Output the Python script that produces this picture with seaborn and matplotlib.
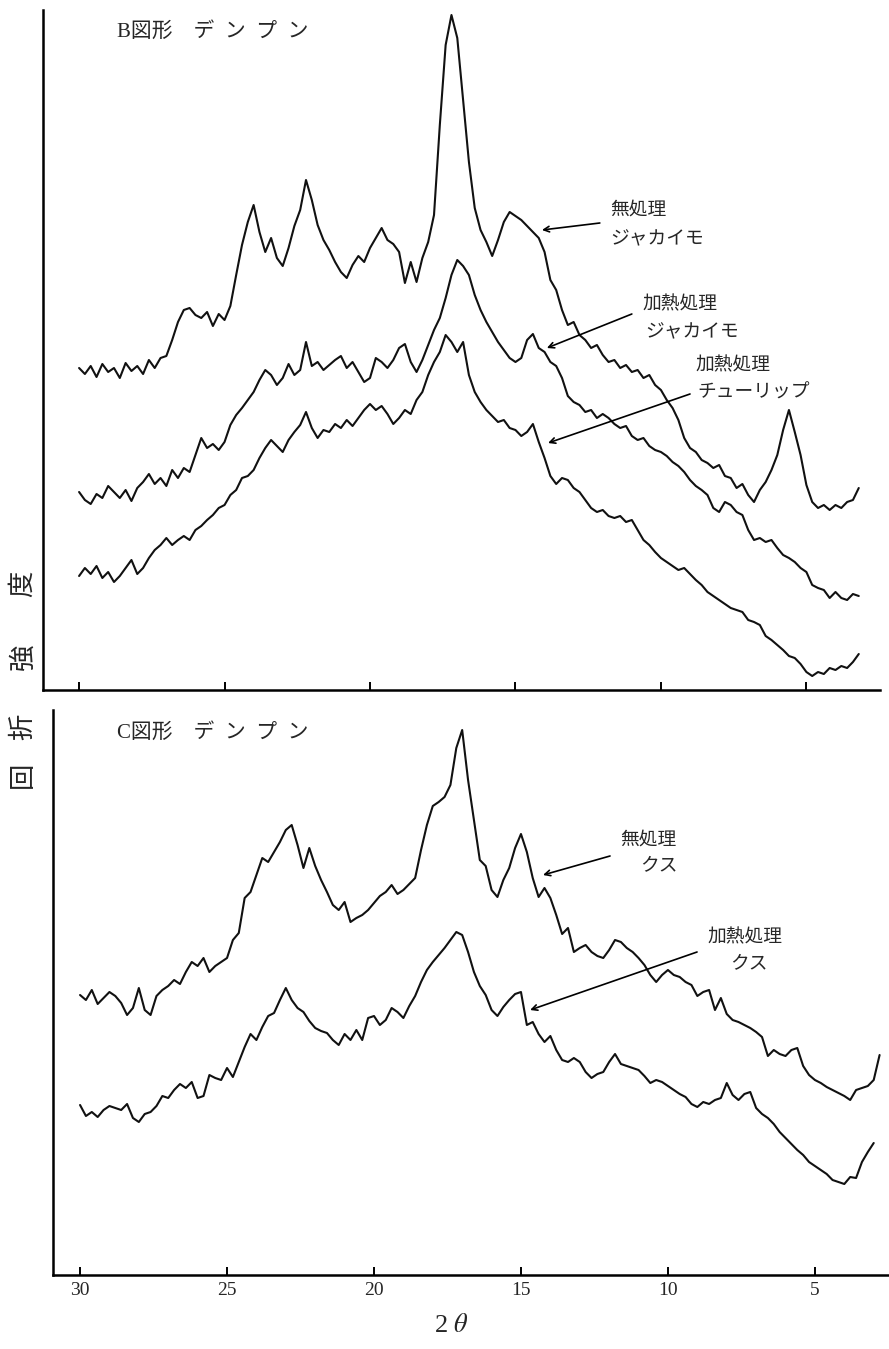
import numpy as np
import matplotlib
matplotlib.use("Agg")
import matplotlib.pyplot as plt
import seaborn as sns

# X-ray diffraction traces, intensity in arbitrary units
# 2theta sampled every 0.2 deg from 30 down to the end of each trace
theta_b = np.round(np.arange(30.0, 3.1, -0.2), 1)   # B panel, 30.0 .. 3.2
theta_c = np.round(np.arange(30.0, 2.7, -0.2), 1)   # C panel, 30.0 .. 2.8

# B図形 (top panel)
b_untreated_potato = [
    322, 316, 324, 313, 326, 318, 322, 312, 327, 319,
    324, 316, 330, 322, 332, 334, 350, 368, 380, 382,
    375, 372, 378, 364, 376, 370, 384, 415, 445, 468,
    485, 458, 438, 452, 432, 424, 442, 464, 480, 510,
    490, 465, 450, 440, 428, 418, 412, 425, 434, 428,
    442, 452, 462, 450, 446, 438, 407, 428, 408, 432,
    448, 475, 565, 645, 675, 652, 590, 528, 482, 460,
    448, 434, 450, 468, 478, 474, 470, 464, 458, 452,
    438, 410, 400, 380, 365, 368, 355, 350, 342, 345,
    335, 328, 330, 322, 325, 318, 320, 312, 315, 305,
    300, 290, 282, 270, 252, 242, 238, 230, 227, 222,
    225, 214, 212, 202, 206, 195, 188, 200, 208, 220,
    235, 260, 280, 258, 235, 205, 188, 182, 185, 180,
    185, 182, 188, 190, 202]
b_heated_potato = [
    198, 190, 186, 196, 192, 204, 198, 192, 200, 189,
    202, 208, 216, 206, 212, 204, 220, 212, 222, 218,
    235, 252, 242, 246, 240, 248, 265, 275, 282, 290,
    298, 310, 320, 315, 305, 312, 326, 315, 320, 348,
    324, 328, 320, 325, 330, 334, 322, 328, 318, 308,
    312, 332, 328, 322, 330, 342, 346, 328, 318, 330,
    345, 360, 372, 392, 415, 430, 424, 415, 395, 380,
    368, 358, 348, 340, 332, 328, 332, 350, 356, 342,
    338, 328, 324, 312, 294, 288, 285, 278, 280, 272,
    276, 272, 266, 262, 264, 254, 250, 252, 244, 240,
    238, 234, 228, 224, 218, 210, 204, 200, 195, 182,
    178, 188, 185, 178, 175, 160, 150, 152, 148, 150,
    142, 135, 132, 128, 122, 118, 105, 102, 100, 92,
    98, 92, 90, 96, 94]
b_heated_tulip = [
    114, 122, 116, 124, 112, 118, 108, 114, 122, 130,
    116, 122, 132, 140, 145, 152, 145, 150, 154, 150,
    160, 164, 170, 175, 182, 185, 195, 200, 212, 214,
    220, 232, 242, 250, 244, 238, 250, 258, 265, 278,
    262, 252, 260, 258, 266, 262, 270, 264, 272, 280,
    286, 280, 284, 276, 266, 272, 280, 276, 290, 298,
    315, 328, 338, 355, 348, 338, 348, 315, 298, 288,
    280, 274, 268, 270, 262, 260, 254, 258, 266, 248,
    232, 214, 206, 212, 210, 202, 198, 190, 182, 178,
    180, 174, 172, 174, 168, 170, 160, 150, 145, 138,
    132, 128, 124, 120, 122, 116, 110, 105, 98, 94,
    90, 86, 82, 80, 78, 70, 68, 65, 54, 50,
    45, 40, 34, 32, 26, 18, 14, 18, 16, 22,
    20, 24, 22, 28, 36]

# C図形 (bottom panel)
c_untreated_kusu = [
    280, 275, 285, 271, 277, 283, 279, 272, 260, 267,
    287, 265, 260, 279, 285, 289, 295, 291, 303, 313,
    309, 317, 303, 309, 313, 317, 335, 342, 377, 383,
    400, 417, 413, 423, 433, 445, 450, 430, 407, 427,
    409, 395, 383, 370, 365, 373, 353, 357, 360, 365,
    372, 379, 383, 390, 381, 385, 391, 397, 425, 450,
    469, 473, 478, 490, 527, 545, 495, 455, 415, 409,
    385, 378, 395, 407, 427, 441, 423, 397, 378, 387,
    377, 360, 341, 347, 323, 327, 330, 323, 319, 317,
    325, 335, 333, 327, 323, 317, 310, 300, 293, 300,
    305, 300, 298, 293, 290, 279, 283, 285, 265, 277,
    261, 255, 253, 250, 247, 243, 238, 219, 225, 221,
    219, 225, 227, 209, 200, 195, 192, 188, 185, 182,
    179, 175, 185, 187, 189, 195, 220]
c_heated_kusu = [
    170, 159, 163, 158, 165, 169, 167, 165, 171, 157,
    153, 161, 163, 169, 179, 177, 185, 191, 187, 193,
    177, 179, 200, 197, 195, 207, 198, 213, 228, 241,
    235, 248, 259, 262, 275, 287, 275, 267, 263, 254,
    247, 244, 242, 235, 230, 241, 235, 245, 235, 257,
    259, 250, 255, 267, 263, 257, 269, 279, 293, 305,
    313, 320, 327, 335, 343, 340, 323, 303, 289, 280,
    265, 259, 268, 275, 281, 283, 250, 253, 241, 233,
    239, 225, 215, 213, 217, 213, 203, 197, 201, 203,
    213, 221, 211, 209, 207, 205, 199, 192, 195, 193,
    189, 185, 181, 178, 171, 168, 173, 171, 175, 177,
    192, 180, 175, 181, 183, 167, 161, 157, 151, 143,
    137, 131, 125, 120, 113, 109, 105, 101, 95, 93,
    91, 98, 97, 113, 123, 132]

ticks = [30, 25, 20, 15, 10, 5]
tick_labels = ["30", "25", "20", "15", "10", "5"]

sns.set_style("ticks")
plt.rcParams['font.family'] = ['Liberation Serif', 'Noto Sans CJK JP']
plt.rcParams['mathtext.fontset'] = 'stix'

W, H = 889, 1349
fig = plt.figure(figsize=(W / 100, H / 100), dpi=100)
ax1 = fig.add_axes([43 / W, 1 - 690 / H, (880 - 43) / W, 680 / H])
ax2 = fig.add_axes([53 / W, 74 / H, (889 - 53) / W, 565 / H])

for vals in [b_untreated_potato, b_heated_potato, b_heated_tulip]:
    sns.lineplot(x=theta_b[:len(vals)], y=vals, ax=ax1, color='#111111',
                 lw=1.5, sort=False, estimator=None)
for vals in [c_untreated_kusu, c_heated_kusu]:
    sns.lineplot(x=theta_c[:len(vals)], y=vals, ax=ax2, color='#111111',
                 lw=1.5, sort=False, estimator=None)

ax1.set_xlim(31.24, 2.47)
ax1.set_ylim(0, 680)
ax2.set_xlim(30.92, 2.48)
ax2.set_ylim(0, 565)

for ax in [ax1, ax2]:
    sns.despine(ax=ax)
    ax.spines['left'].set_linewidth(1.8)
    ax.spines['bottom'].set_linewidth(1.8)
    ax.spines['left'].set_color('black')
    ax.spines['bottom'].set_color('black')
    ax.set_yticks([])
    ax.set_xticks(ticks)
    ax.tick_params(axis='x', direction='in', length=6, width=1.4,
                   color='black', pad=5, labelsize=14)
    ax.set_xlabel('')
    ax.set_ylabel('')
ax1.set_xticklabels([])
ax2.set_xticklabels(tick_labels)

# panel titles
fig.text(117 / W, 1 - 32 / H, 'B図形\u3000デ  ン  プ  ン', fontsize=15,
         ha='left', va='center')
fig.text(117 / W, 1 - 733 / H, 'C図形\u3000デ  ン  プ  ン', fontsize=15,
         ha='left', va='center')

# axis titles
for ch, ypx in zip(['回', '折', '強', '度'], [775, 727, 657, 584]):
    fig.text(23 / W, 1 - ypx / H, ch, fontsize=19, rotation=90,
             ha='center', va='center')
fig.text(451 / W, 1 - 1325 / H, r'2 $\theta$', fontsize=19,
         ha='center', va='center')

# labels with arrows
arrow = dict(arrowstyle='->', lw=1.2, color='black', shrinkA=0, shrinkB=0)
fs = 13.5
ax1.text(11.75, 480, '無処理', fontsize=fs, ha='left', va='center')
ax1.text(11.75, 450, 'ジャカイモ', fontsize=fs, ha='left', va='center')
ax1.annotate('', xy=(14.09, 460), xytext=(12.10, 467), arrowprops=arrow)

ax1.text(10.62, 385, '加熱処理', fontsize=fs, ha='left', va='center')
ax1.text(10.55, 357, 'ジャカイモ', fontsize=fs, ha='left', va='center')
ax1.annotate('', xy=(13.92, 342), xytext=(11.0, 376), arrowprops=arrow)

ax1.text(8.83, 324, '加熱処理', fontsize=fs, ha='left', va='center')
ax1.text(8.76, 297, 'チューリップ', fontsize=fs, ha='left', va='center')
ax1.annotate('', xy=(13.88, 247), xytext=(9.0, 296), arrowprops=arrow)

ax2.text(11.63, 435, '無処理', fontsize=fs, ha='left', va='center')
ax2.text(10.95, 409, 'クス', fontsize=fs, ha='left', va='center')
ax2.annotate('', xy=(14.25, 400), xytext=(11.97, 419), arrowprops=arrow)

ax2.text(8.64, 337, '加熱処理', fontsize=fs, ha='left', va='center')
ax2.text(7.89, 311, 'クス', fontsize=fs, ha='left', va='center')
ax2.annotate('', xy=(14.69, 265), xytext=(9.01, 323), arrowprops=arrow)

fig.savefig('out.png', dpi=100)
